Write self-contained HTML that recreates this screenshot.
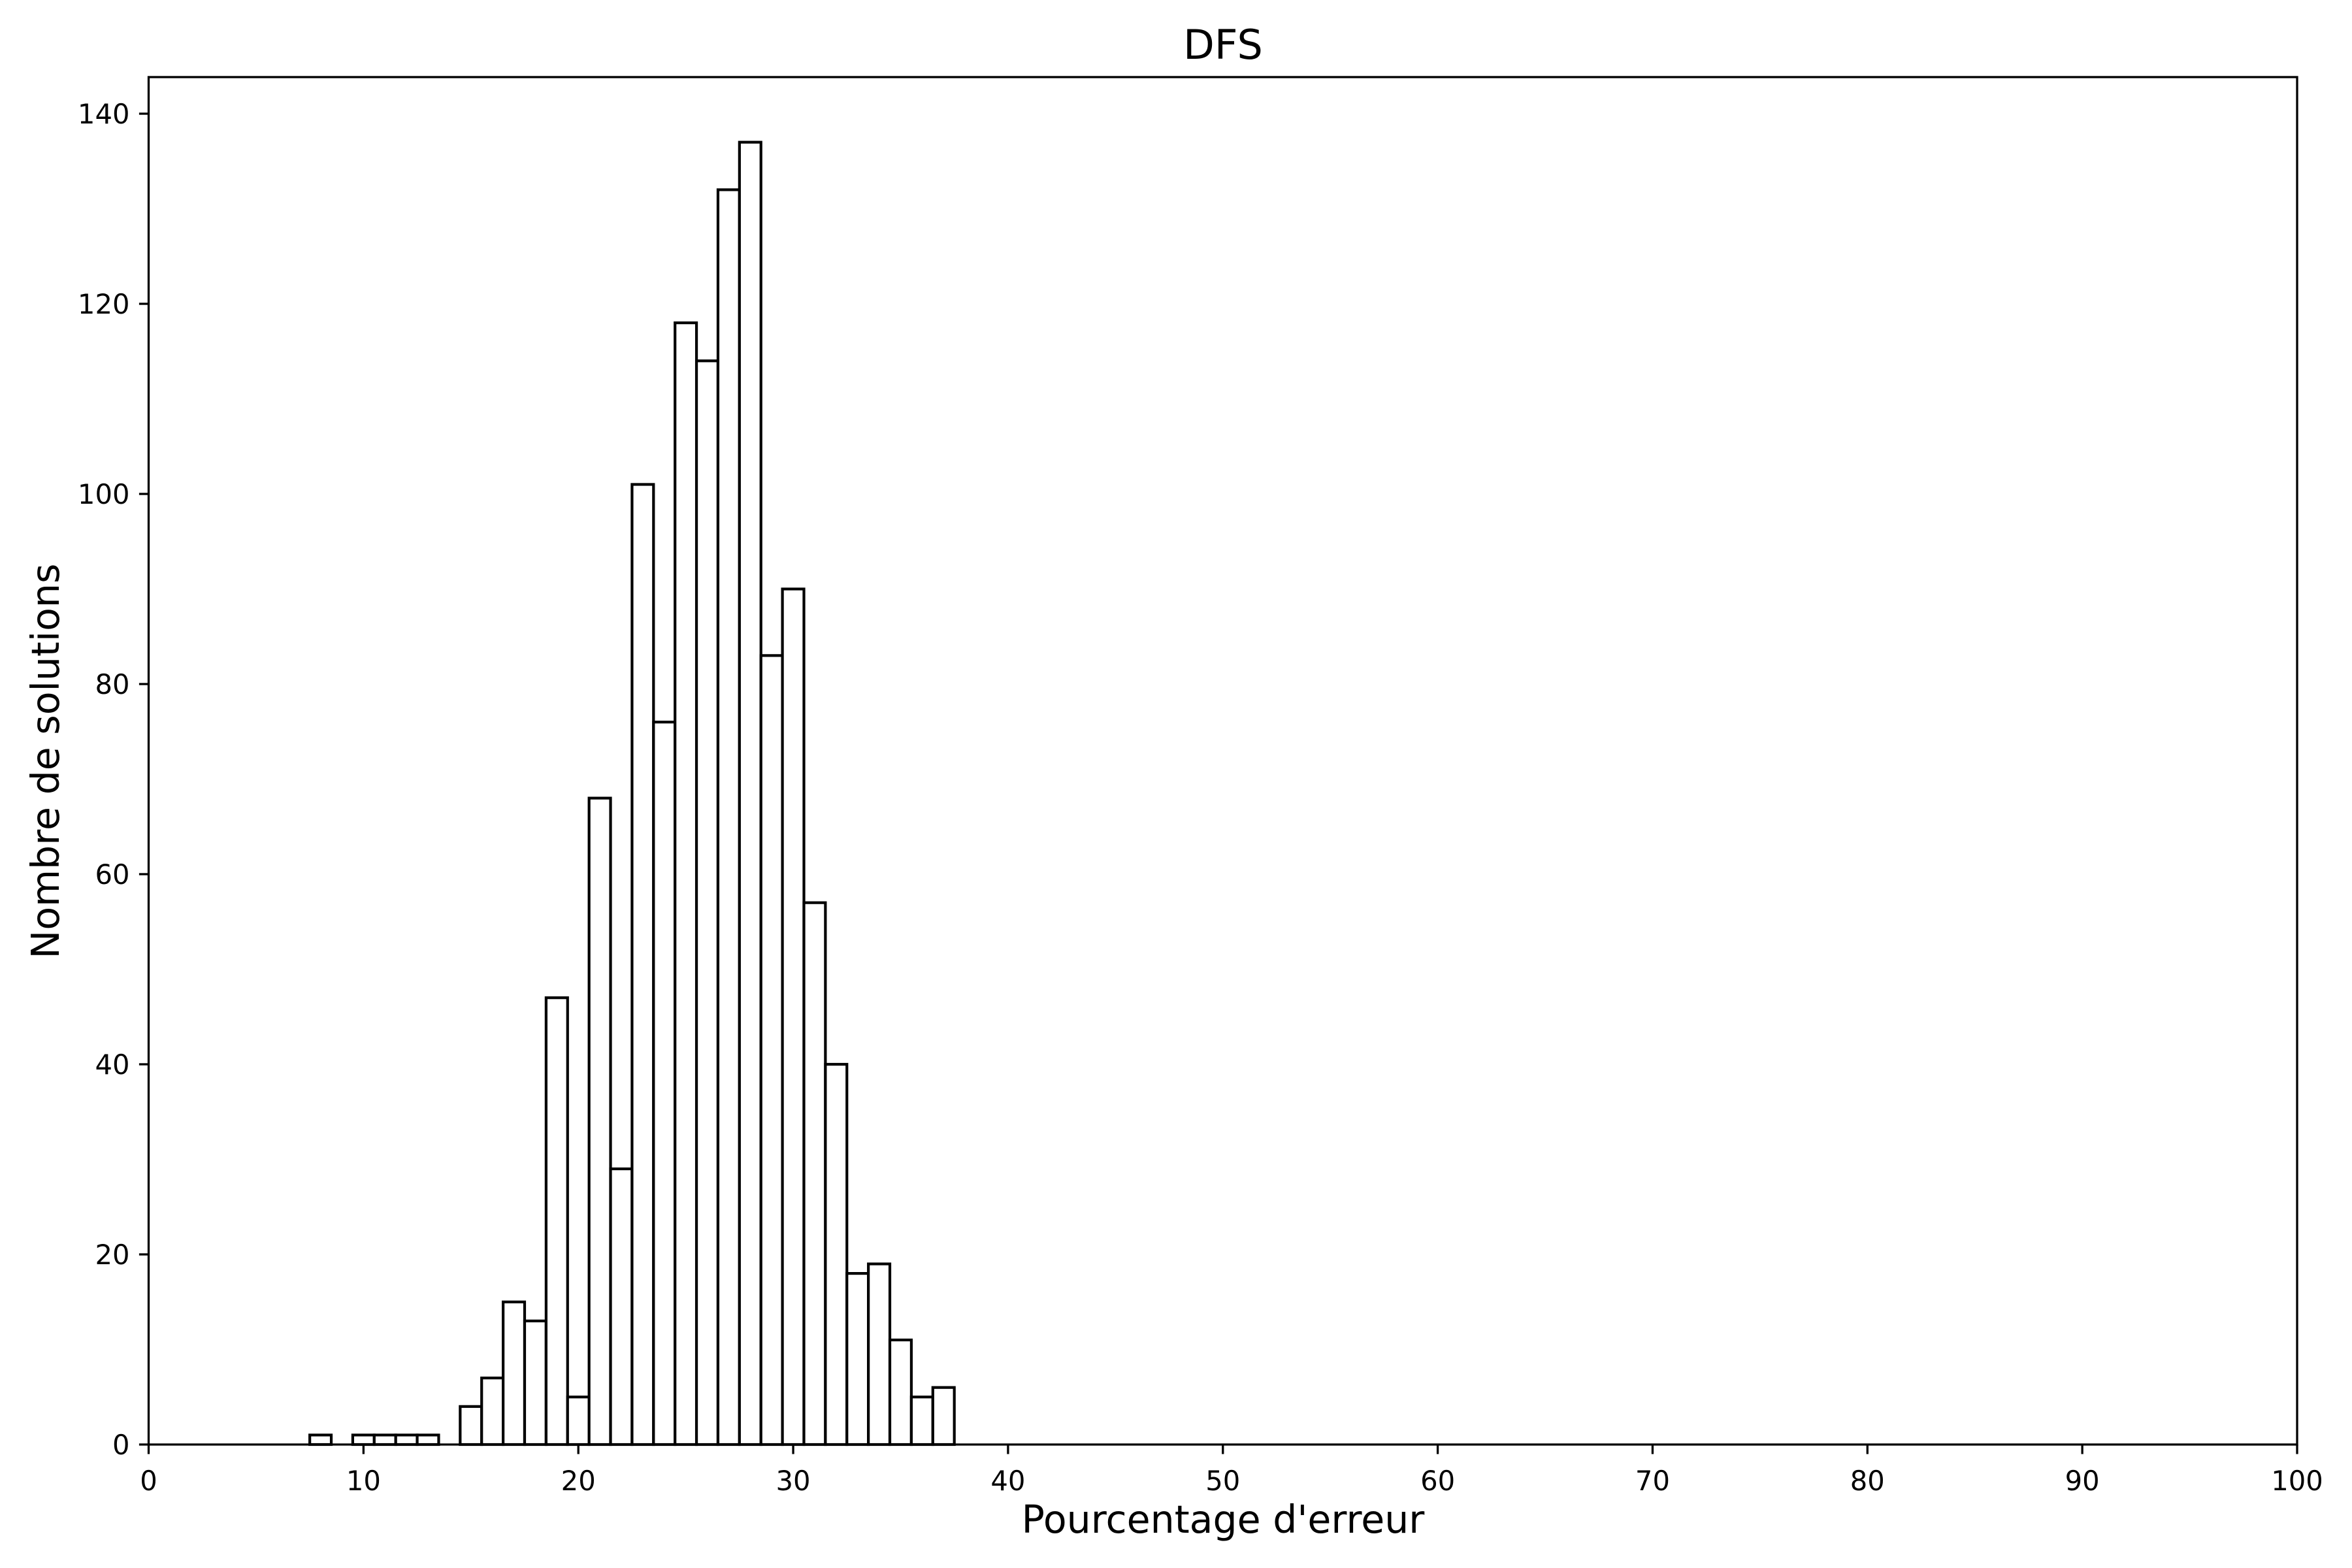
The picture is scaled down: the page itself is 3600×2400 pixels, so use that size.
<!DOCTYPE html>
<html><head><meta charset="utf-8"><style>
html,body{margin:0;padding:0;background:#fff;}
svg{display:block;font-family:"DejaVu Sans","Liberation Sans",sans-serif;}
</style></head><body>
<svg id="chart" width="3600" height="2400" viewBox="0 0 3600 2400" xmlns="http://www.w3.org/2000/svg">
<rect width="3600" height="2400" fill="#fff"/>
<g id="bars"></g>
<g id="axes"></g>
<text x="1872" y="90" font-size="62" text-anchor="middle">DFS</text>
<text x="1872" y="2346" font-size="58.5" text-anchor="middle">Pourcentage d'erreur</text>
<text transform="translate(90,1165) rotate(-90)" font-size="58.5" text-anchor="middle">Nombre de solutions</text>
</svg>
<script>
const binCenters = [8,9,10,11,12,13,14,15,16,17,18,19,20,21,22,23,24,25,26,27,28,29,30,31,32,33,34,35,36,37];
const counts = [1,0,1,1,1,1,0,4,7,15,13,47,5,68,29,101,76,118,114,132,137,83,90,57,40,18,19,11,5,6];
const xTicks = [0,10,20,30,40,50,60,70,80,90,100];
const yTicks = [0,20,40,60,80,100,120,140];
const binWidth = 1;

const L=227.5,R=3516,T=118,B=2211, XMAX=100, YMAX=143.85;
const sx=v=>L+(v/XMAX)*(R-L);
const sy=v=>B-(v/YMAX)*(B-T);
const NS='http://www.w3.org/2000/svg';
const bars=document.getElementById('bars'), axes=document.getElementById('axes');
function mk(tag,attrs,parent){const e=document.createElementNS(NS,tag);for(const k in attrs)e.setAttribute(k,attrs[k]);parent.appendChild(e);return e;}
binCenters.forEach((c,i)=>{
  if(counts[i]<=0) return;
  const x0=sx(c-binWidth/2), x1=sx(c+binWidth/2);
  const r=mk('rect',{x:x0,y:sy(counts[i]),width:x1-x0,height:sy(0)-sy(counts[i]),fill:'#fff',stroke:'#000','stroke-width':4.2},bars);
  
  
});
const frame=mk('rect',{x:L,y:T,width:R-L,height:B-T,fill:'none',stroke:'#000','stroke-width':3.3},axes);


xTicks.forEach(v=>{
  const x=sx(v);
  const t=mk('line',{x1:x,x2:x,y1:B,y2:B+14.6,stroke:'#000','stroke-width':3.3},axes);
  
  
  const l=mk('text',{x:x,y:B+70,'font-size':41.7,'text-anchor':'middle'},axes);
  l.textContent=v;
  
  
});
yTicks.forEach(v=>{
  const y=sy(v);
  const t=mk('line',{x1:L-14.6,x2:L,y1:y,y2:y,stroke:'#000','stroke-width':3.3},axes);
  
  
  const l=mk('text',{x:L-29,y:y+15,'font-size':41.7,'text-anchor':'end'},axes);
  l.textContent=v;
  
  
});
</script>
</body></html>
